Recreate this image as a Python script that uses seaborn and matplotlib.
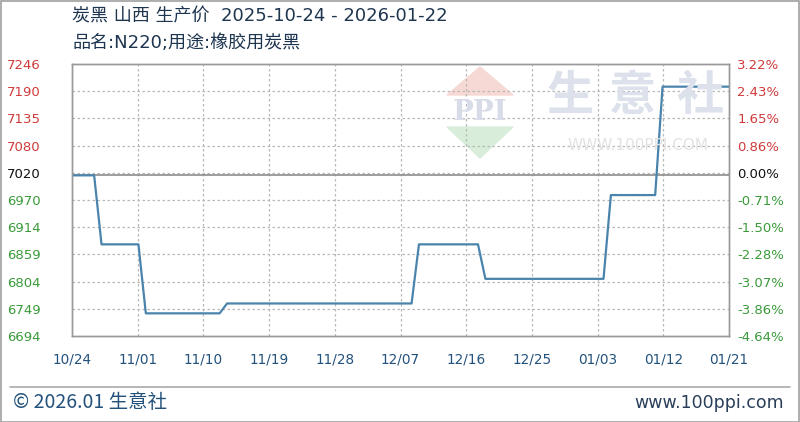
import numpy as np
import pandas as pd
import matplotlib
matplotlib.use("Agg")
import matplotlib.pyplot as plt
import seaborn as sns
from matplotlib.patches import Polygon, Rectangle

# ---------------- data ----------------
start_date = "2025-10-24"
point_dates = ["2025-10-24", "2025-10-27", "2025-10-28", "2025-11-02", "2025-11-03",
               "2025-11-13", "2025-11-14", "2025-12-09", "2025-12-10", "2025-12-18",
               "2025-12-19", "2026-01-04", "2026-01-05", "2026-01-11", "2026-01-12",
               "2026-01-22"]
point_prices = [7020, 7020, 6880, 6880, 6740, 6740, 6760, 6760, 6880, 6880,
                6810, 6810, 6980, 6980, 7200, 7200]
base_price = 7020
y_min, y_max = 6694, 7246
x_labels = ["10/24", "11/01", "11/10", "11/19", "11/28", "12/07",
            "12/16", "12/25", "01/03", "01/12", "01/21"]
left_labels = ["6694", "6749", "6804", "6859", "6914", "6970",
               "7020", "7080", "7135", "7190", "7246"]
right_labels = ["-4.64%", "-3.86%", "-3.07%", "-2.28%", "-1.50%", "-0.71%",
                "0.00%", "0.86%", "1.65%", "2.43%", "3.22%"]
title1 = "炭黑 山西 生产价  2025-10-24 - 2026-01-22"
title2 = "品名:N220;用途:橡胶用炭黑"
footer_left = "© 2026.01 生意社"
footer_right = "www.100ppi.com"

# ---------------- frame ----------------
df = pd.DataFrame({"date": pd.to_datetime(point_dates), "price": point_prices})
df["day"] = (df["date"] - pd.Timestamp(start_date)).dt.days

sns.set_theme(style="white")
plt.rcParams["font.family"] = ["DejaVu Sans", "Noto Sans CJK SC"]

W, H = 800, 422
fig = plt.figure(figsize=(W / 100, H / 100), dpi=100)
fig.patch.set_facecolor("white")

L, R, T, B = 72, 729, 64, 336
ax = fig.add_axes([L / W, 1 - B / H, (R - L) / W, (B - T) / H])
ax.set_facecolor("white")

x_end = 89
ax.set_xlim(0, x_end)
ax.set_ylim(y_min, y_max)

red = "#d03a3a"
green = "#3a9a3a"
dark = "#1e3550"
blue_txt = "#23527c"

wm_tr = fig.transFigure
def fx(px): return px / W
def fy(py): return 1 - py / H

# watermark logo & text
ax.add_artist(Polygon([[fx(447), fy(95)], [fx(513), fy(95)], [fx(480), fy(67)]],
                      closed=True, transform=wm_tr, color="#f6d9d4", zorder=0.5))
ax.add_artist(Polygon([[fx(447), fy(127)], [fx(513), fy(127)], [fx(480), fy(158)]],
                      closed=True, transform=wm_tr, color="#d8eedb", zorder=0.5))
fig.text(fx(480), fy(112), "PPI", ha="center", va="center", fontsize=20,
         color="#d8dce8", fontweight="bold", family=["DejaVu Serif"], zorder=0.6)
for cx, ch in zip([570, 632, 700], ["生", "意", "社"]):
    fig.text(fx(cx), fy(96), ch, ha="center", va="center", fontsize=34,
             color="#dce1ec", fontweight="bold", family=["Noto Sans CJK SC"], zorder=0.6)
fig.text(fx(638), fy(145), "WWW.100PPI.COM", ha="center", va="center",
         fontsize=11, color="#e2e2e2", zorder=0.6)

# grid
xt = np.linspace(0, x_end, len(x_labels))
yt = np.linspace(y_min, y_max, len(left_labels))
for x in xt[1:-1]:
    ax.axvline(x, color="#b8b8b8", lw=0.9, ls=(0, (2, 2)), zorder=1)
for y in yt[1:-1]:
    ax.axhline(y, color="#b8b8b8", lw=0.9, ls=(0, (2, 2)), zorder=1)
ax.axhline(base_price, color="#8c8c8c", lw=1.2, zorder=1.5)

sns.lineplot(data=df, x="day", y="price", ax=ax, color="#4a84ad", lw=1.6,
             zorder=3, legend=False)
ax.set_xlabel("")
ax.set_ylabel("")

ax.set_xticks(xt)
ax.set_xticklabels(x_labels)
ax.tick_params(axis="x", length=0, pad=12, labelsize=9.8, labelcolor=blue_txt)
ax.set_yticks(yt)
ax.set_yticklabels(left_labels)
ax.tick_params(axis="y", length=0, pad=0, labelsize=9.5)
for lab in ax.get_yticklabels():
    lab.set_horizontalalignment("left")
    lab.set_x(-65 / (R - L))
for lab, txt in zip(ax.get_yticklabels(), left_labels):
    v = int(txt)
    lab.set_color(red if v > base_price else ("#111111" if v == base_price else green))

ax2 = ax.twinx()
ax2.set_ylim(y_min, y_max)
ax2.set_yticks(yt)
ax2.set_yticklabels(right_labels)
ax2.tick_params(axis="y", length=0, pad=6, labelsize=9.5)
for lab, txt in zip(ax2.get_yticklabels(), right_labels):
    v = float(txt.rstrip("%"))
    lab.set_color(red if v > 0 else ("#111111" if v == 0 else green))

for a in (ax, ax2):
    for s in a.spines.values():
        s.set_color("#999999")
        s.set_linewidth(1.0)

# titles
fig.text(fx(72), fy(16), title1, ha="left", va="center", fontsize=13,
         color=dark, family=["DejaVu Sans", "Noto Sans CJK SC"])
fig.text(fx(72), fy(43), title2, ha="left", va="center", fontsize=13,
         color=dark, family=["DejaVu Sans", "Noto Sans CJK SC"])

# footer
fig.add_artist(plt.Line2D([fx(10), fx(790)], [fy(387), fy(387)],
                          transform=wm_tr, color="#aaaaaa", lw=1.2))
fig.text(fx(13), fy(402), footer_left, ha="left", va="center", fontsize=14,
         color=blue_txt, family=["Noto Sans CJK SC", "DejaVu Sans"])
fig.text(fx(784), fy(403), footer_right, ha="right", va="center", fontsize=12.5,
         color="#2a3f5a")

# outer border
fig.add_artist(Rectangle((0.5 / W, 0.5 / H), 1 - 1.5 / W, 1 - 1.5 / H,
                         transform=wm_tr, fill=False, ec="#a0a0a0", lw=1.2))

fig.savefig("out.png", dpi=100, facecolor="white")
